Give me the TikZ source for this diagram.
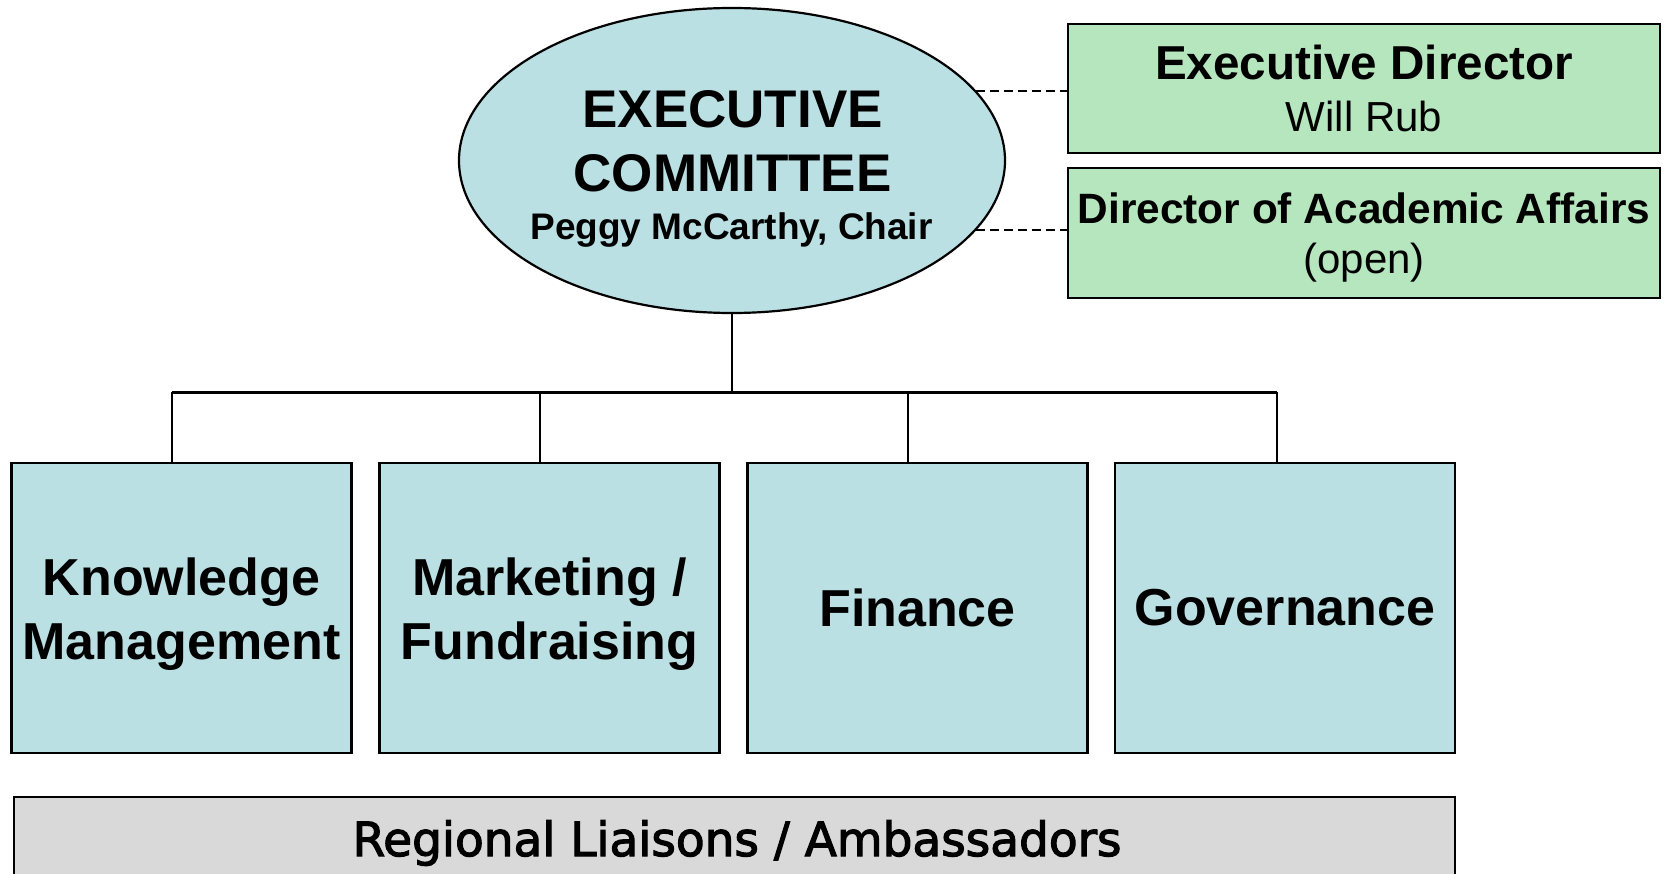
\documentclass[tikz,border=0pt]{standalone}
\usepackage{fontspec}
\setmainfont{Liberation Sans}
\newfontfamily\regfont[FakeBold=2.5]{DejaVu Sans}
\usetikzlibrary{shapes.geometric}
\definecolor{ecblue}{HTML}{BBE0E3}
\definecolor{dirgreen}{HTML}{B5E6BE}
\definecolor{liaisongrey}{HTML}{D9D9D9}
\begin{document}
\begin{tikzpicture}[x=1pt,y=-1pt,
  outl/.style={draw=black, line width=2.2pt},
  unitbox/.style={outl, fill=ecblue, minimum width=340pt, minimum height=290pt, inner sep=0pt, align=center, font=\fontsize{52}{64}\selectfont\bfseries},
  dirbox/.style={outl, fill=dirgreen, minimum width=592pt, minimum height=129pt, inner sep=0pt, align=center},
  conn/.style={line width=2pt},
  busline/.style={line width=3pt},
  dashconn/.style={line width=2pt, dash pattern=on 9pt off 5pt},
  ectext/.style={anchor=base, inner sep=0pt, font=\fontsize{53}{60}\selectfont\bfseries},
]
\useasboundingbox (0,0) rectangle (1670,874);
\fill[white] (0,0) rectangle (1670,874);
\clip (0,0) rectangle (1670,874);

% Executive committee
\node[outl, ellipse, fill=ecblue, minimum width=546pt, minimum height=305pt, inner sep=0pt] (ec) at (732,160.5) {};
\node[ectext] (ect1) at (732.5,128) {EXECUTIVE};
\node[ectext] (ect2) at (732.5,192) {COMMITTEE};
\node[ectext, font=\fontsize{37}{40}\selectfont\bfseries] (ect3) at (731.5,240) {Peggy McCarthy, Chair};

% Directors
\node[dirbox, font=\fontsize{42}{52}\selectfont] (ed) at (1364,88.5) {{\fontsize{47.6}{52}\selectfont\bfseries Executive Director}\\Will Rub};
\node[dirbox, minimum height=130pt, font=\fontsize{42}{50}\selectfont] (daa) at (1364,233) {\rule{0pt}{39pt}{\fontsize{42.4}{50}\selectfont\bfseries Director of Academic Affairs}\\(open)};
\draw[dashconn] (ec.16.5) -- (ec.16.5 -| ed.west);
\draw[dashconn] (ec.-16.5) -- (ec.-16.5 -| daa.west);

% Committees
\node[unitbox] (km) at (181.5,608) {\rule{0pt}{51pt}Knowledge\\Management};
\node[unitbox] (mf) at (549.5,608) {\rule{0pt}{51pt}Marketing /\\Fundraising};
\node[unitbox] (fin) at (917.5,608) {Finance};
\node[unitbox] (gov) at (1285,608) {Governance};

% Tree connectors
\coordinate (bus) at (732,392);
\coordinate (k1) at ([xshift=-9.5pt]km.north);
\coordinate (k2) at ([xshift=-9.5pt]mf.north);
\coordinate (k3) at ([xshift=-9.5pt]fin.north);
\coordinate (k4) at ([xshift=-8pt]gov.north);
\draw[conn] (ec.south) -- (bus);
\draw[busline] (k1 |- bus) -- (k4 |- bus);
\draw[conn] (k1) -- (k1 |- bus);
\draw[conn] (k2) -- (k2 |- bus);
\draw[conn] (k3) -- (k3 |- bus);
\draw[conn] (k4) -- (k4 |- bus);

% Regional liaisons
\node[outl, fill=liaisongrey, minimum width=1441pt, minimum height=140pt, inner sep=0pt, anchor=north] (rl) at (734.5,796) {};
\node[anchor=base, inner sep=0pt, font=\regfont\fontsize{47}{52}\selectfont] (rlt) at (737,856) {Regional Liaisons / Ambassadors};
\end{tikzpicture}
\end{document}
